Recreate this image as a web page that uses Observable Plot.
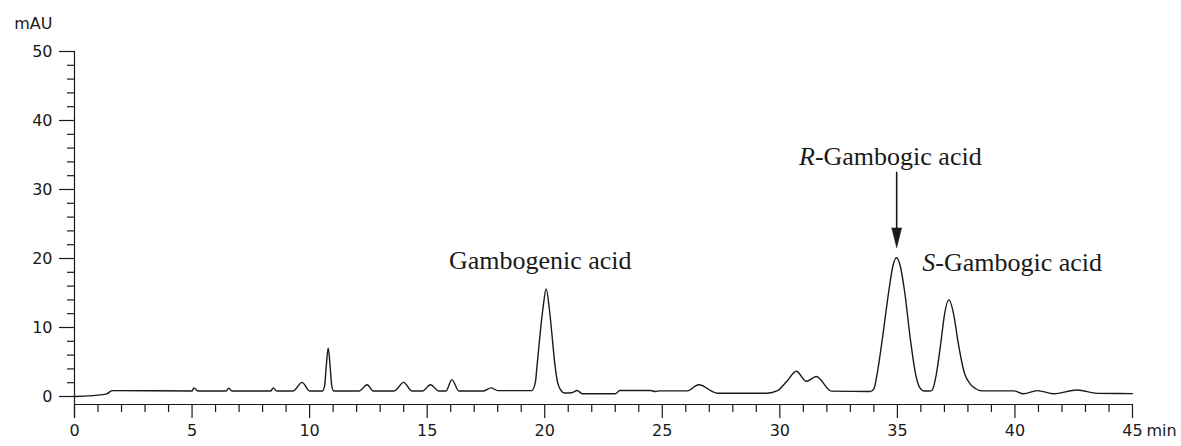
<!DOCTYPE html>
<html>
<head>
<meta charset="utf-8">
<script src="https://cdn.jsdelivr.net/npm/d3@7"></script>
<script src="https://cdn.jsdelivr.net/npm/@observablehq/plot@0.6"></script>
<style>
  html, body { margin: 0; padding: 0; background: #fff; }
  #chart { width: 1181px; height: 446px; }
</style>
</head>
<body>
<div id="chart"></div>
<script>
// Retention time (min) and detector signal (mAU)
const time = [
  0, 1.35, 1.6, 5.0, 5.08, 5.25, 6.45, 6.56, 6.7, 8.35, 8.45, 8.6,
  9.3, 9.68, 10.0, 10.55, 10.64, 10.71, 10.79, 10.87, 10.94, 11.02,
  12.1, 12.45, 12.7, 13.6, 14.0, 14.35, 14.8, 15.14, 15.5, 15.8, 16.05, 16.35,
  17.4, 17.72, 18.0, 19.45, 19.6, 19.68, 19.82, 19.93, 20.06, 20.19, 20.29, 20.43,
  20.55, 20.67, 20.85, 21.15, 21.38, 21.6, 23.0, 23.2, 24.5, 24.7, 24.9, 26.06,
  26.55, 27.35, 29.45, 29.9, 30.3, 30.7, 31.13, 31.55, 32.2, 33.85, 34.0, 34.14,
  34.35, 34.64, 34.8, 34.96, 35.13, 35.3, 35.56, 35.77, 35.95, 36.15, 36.4, 36.48,
  36.66, 36.86, 37.0, 37.19, 37.4, 37.57, 37.86, 38.1, 38.3, 38.6, 39.95, 40.37,
  40.95, 41.65, 42.65, 43.5, 45
];
const signal = [
  0, 0.35, 0.85, 0.8, 1.25, 0.8, 0.8, 1.2, 0.8, 0.8, 1.25, 0.8,
  0.8, 2.05, 0.8, 0.8, 1.6, 4.5, 7.05, 4.5, 1.6, 0.8,
  0.8, 1.7, 0.8, 0.8, 2.05, 0.8, 0.8, 1.7, 0.8, 0.8, 2.45, 0.8,
  0.8, 1.25, 0.85, 0.85, 2.0, 4.7, 9.6, 12.9, 15.6, 12.9, 9.6, 4.7,
  2.0, 1.0, 0.5, 0.55, 0.87, 0.4, 0.4, 0.87, 0.87, 0.72, 0.82, 0.82,
  1.7, 0.48, 0.48, 0.85, 2.2, 3.65, 2.2, 2.9, 0.78, 0.72, 1.1, 3.3,
  8.1, 15.4, 18.8, 20.1, 18.8, 15.4, 8.1, 3.3, 1.3, 0.8, 0.8, 0.9,
  3.3, 8.1, 11.8, 14.0, 11.8, 8.1, 3.3, 1.8, 1.2, 0.82, 0.82, 0.4,
  0.85, 0.4, 0.95, 0.45, 0.42
];

// Axis ticks
const xMajor = [0, 5, 10, 15, 20, 25, 30, 35, 40, 45];
const xMinor = d3.range(0, 46).filter(d => d % 5 !== 0);
const yMajor = [0, 10, 20, 30, 40, 50];
const yMinor = d3.range(0, 51, 2).filter(d => d % 10 !== 0);

// Peak annotations
const peakNames = ["Gambogenic acid", "-Gambogic acid", "-Gambogic acid"];
const peakPrefix = ["", "R", "S"];
const labelX = [19.81, 30.81, 36.06];
const labelY = [18.5, 33.48, 18.26];
const arrowX = [34.97];
const arrowTop = [32.5];
const arrowStemEnd = [24.1];
const arrowTip = [21.55];

const trace = time.map((t, i) => ({t, v: signal[i]}));
const labels = peakNames.map((name, i) => ({name, prefix: peakPrefix[i], x: labelX[i], y: labelY[i]}));
const arrows = arrowX.map((x, i) => ({x, top: arrowTop[i], stem: arrowStemEnd[i], tip: arrowTip[i]}));

const serif = "'Liberation Serif', 'Times New Roman', serif";
const sans = "'DejaVu Sans', 'Liberation Sans', Arial, sans-serif";
const ink = "#1a1a1a";

const chart = Plot.plot({
  width: 1181,
  height: 446,
  marginLeft: 74,
  marginRight: 49,
  marginTop: 51,
  marginBottom: 28,
  style: {fontFamily: sans, fontSize: "16px", color: ink, background: "#fff"},
  x: {domain: [0, 45]},
  y: {domain: [0, 50], insetBottom: 22},
  marks: [
    // y axis line
    Plot.tickX([0], {x: d => d, stroke: ink, strokeWidth: 1.2}),
    // x axis line (offset below zero)
    Plot.ruleY([0], {dy: 8, stroke: ink, strokeWidth: 1.2}),
    // x ticks
    Plot.tickX(xMajor, {x: d => d, insetTop: 353, stroke: ink, strokeWidth: 1.2}),
    Plot.tickX(xMinor, {x: d => d, insetTop: 353, insetBottom: 6, stroke: ink, strokeWidth: 1.2}),
    Plot.axisX({ticks: xMajor, tickSize: 0, tickPadding: 6, label: null, fontSize: 16, fill: ink}),
    Plot.text(["min"], {x: 45, frameAnchor: "bottom", dy: 6, dx: 14, textAnchor: "start", lineAnchor: "top", fontSize: 16, fill: ink}),
    // y ticks
    Plot.axisY({ticks: yMajor, tickSize: 15, tickPadding: 7, label: null, fontSize: 16, stroke: ink, strokeWidth: 1.2, fill: ink}),
    Plot.axisY({ticks: yMinor, tickSize: 7, tickFormat: () => "", label: null, stroke: ink, strokeWidth: 1.2}),
    Plot.text(["mAU"], {frameAnchor: "top-left", dx: -22, dy: -28, textAnchor: "end", lineAnchor: "middle", fontSize: 16, fill: ink}),
    // chromatogram trace
    Plot.line(trace, {x: "t", y: "v", curve: "monotone-x", stroke: ink, strokeWidth: 1.4}),
    // labels
    Plot.text(labels.filter(d => d.prefix === ""), {x: "x", y: "y", text: "name", fontFamily: serif, fontSize: 26, textAnchor: "middle", lineAnchor: "bottom", fill: ink}),
    Plot.text(labels.filter(d => d.prefix !== ""), {x: "x", y: "y", text: "prefix", fontFamily: serif, fontSize: 26, fontStyle: "italic", textAnchor: "start", lineAnchor: "bottom", fill: ink}),
    Plot.text(labels.filter(d => d.prefix === "R"), {x: "x", y: "y", text: "name", dx: 16, fontFamily: serif, fontSize: 26, textAnchor: "start", lineAnchor: "bottom", fill: ink}),
    Plot.text(labels.filter(d => d.prefix === "S"), {x: "x", y: "y", text: "name", dx: 13, fontFamily: serif, fontSize: 26, textAnchor: "start", lineAnchor: "bottom", fill: ink}),
    // arrow to R-peak
    Plot.ruleX(arrows, {x: "x", y1: "top", y2: "stem", stroke: ink, strokeWidth: 1.6}),
    Plot.vector(arrows, {x: "x", y: "tip", length: 20, rotate: 180, shape: "spike", r: 5, anchor: "end", fill: ink, stroke: ink, strokeWidth: 0.5})
  ]
});
document.getElementById("chart").appendChild(chart);
</script>
</body>
</html>
